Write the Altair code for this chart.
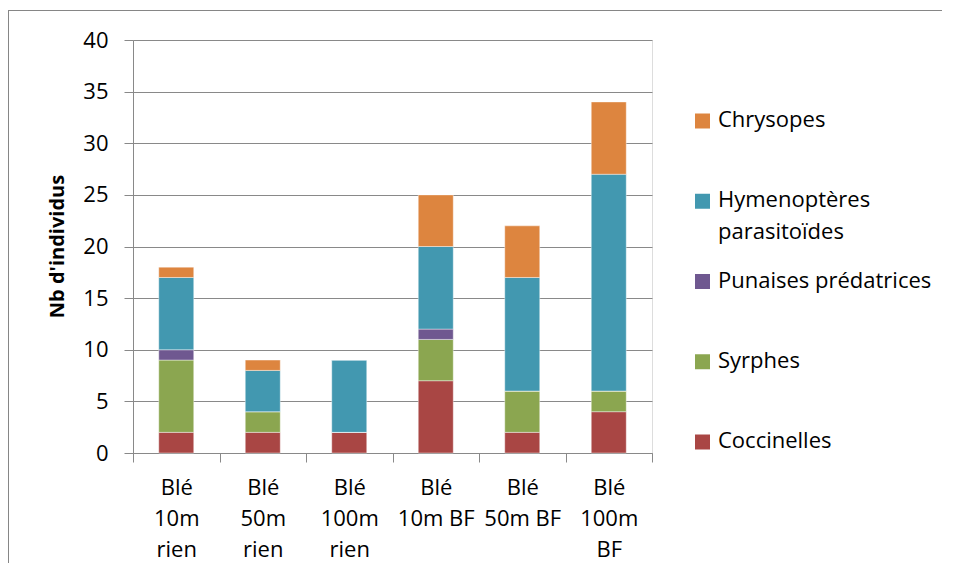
import altair as alt
import pandas as pd

categories = ["Blé|10m|rien", "Blé|50m|rien", "Blé|100m|rien", "Blé|10m BF", "Blé|50m BF", "Blé|100m|BF"]
species = ["Coccinelles", "Syrphes", "Punaises prédatrices", "Hymenoptères parasitoïdes", "Chrysopes"]
legend_labels = ["Coccinelles", "Syrphes", "Punaises prédatrices", "Hymenoptères\nparasitoïdes", "Chrysopes"]
colors = ["#A94644", "#8BA650", "#6F5890", "#4298B0", "#DD853F"]

coccinelles = [2, 2, 2, 7, 2, 4]
syrphes = [7, 2, 0, 4, 4, 2]
punaises = [1, 0, 0, 1, 0, 0]
hymenopteres = [7, 4, 7, 8, 11, 21]
chrysopes = [1, 1, 0, 5, 5, 7]

series = [coccinelles, syrphes, punaises, hymenopteres, chrysopes]
rows = []
for si, (sp, vals) in enumerate(zip(species, series)):
    for cat, v in zip(categories, vals):
        rows.append({"cat": cat, "species": sp, "value": v, "idx": si})
df = pd.DataFrame(rows)

leg = pd.DataFrame({"species": species, "label": legend_labels})
leg_order = list(reversed(species))

FONT = "Open Sans"
FS = 22
GRID = "#898989"
FRAME = "#868686"

color_scale = alt.Scale(domain=species, range=colors)

bars = alt.Chart(df).mark_bar(width=35, stroke="white", strokeWidth=0.6, strokeOpacity=0.7).encode(
    x=alt.X("cat:N", sort=categories, title=None,
            scale=alt.Scale(paddingInner=0, paddingOuter=0),
            axis=alt.Axis(labelExpr="split(datum.label, '|')", labelAngle=0,
                          labelLineHeight=31, labelBaseline="top", labelAlign="center",
                          labelPadding=15, tickSize=9, tickBand="extent",
                          tickColor=GRID, domainColor=GRID, grid=False,
                          labelFont=FONT, labelFontSize=FS, labelColor="black")),
    y=alt.Y("value:Q", stack="zero", title="Nb d'individus",
            scale=alt.Scale(domain=[0, 40], nice=False),
            axis=alt.Axis(values=[0, 5, 10, 15, 20, 25, 30, 35, 40], tickSize=9,
                          tickColor=GRID, domainColor=GRID, gridColor=GRID,
                          labelPadding=16, labelFont=FONT, labelFontSize=FS, labelColor="black",
                          titleFont=FONT, titleFontSize=20, titleFontWeight="bold",
                          titleColor="black", titleAngle=270, titleX=-76, titleY=206,
                          titleAlign="center", titleBaseline="middle")),
    color=alt.Color("species:N", scale=color_scale, legend=None),
    order=alt.Order("idx:Q", sort="ascending"),
)

leg_y = alt.Y("species:N", sort=leg_order, axis=None,
              scale=alt.Scale(domain=leg_order, range=[81, 402], padding=0))

leg_sq = alt.Chart(leg).mark_square(size=225, opacity=1).encode(
    x=alt.value(569.5),
    y=leg_y,
    color=alt.Color("species:N", scale=color_scale, legend=None),
)

leg_txt = alt.Chart(leg).mark_text(align="left", baseline="top", dy=-11, lineBreak="\n",
                                   lineHeight=32, font=FONT, fontSize=FS, color="black").encode(
    x=alt.value(585),
    y=leg_y,
    text="label:N",
)

frame_left = alt.Chart(leg).mark_rule(stroke=FRAME, strokeWidth=1).encode(
    x=alt.value(-124.5), y=alt.value(-29.5), y2=alt.value(700),
)
frame_top = alt.Chart(leg).mark_rule(stroke=FRAME, strokeWidth=1).encode(
    x=alt.value(-124.5), x2=alt.value(900), y=alt.value(-29.5),
)

chart = alt.layer(frame_left, frame_top, bars, leg_sq, leg_txt).resolve_scale(y="independent").properties(
    width=519, height=413,
    autosize=alt.AutoSizeParams(type="none"),
    padding={"left": 125, "top": 32, "right": 290, "bottom": 110},
).configure_view(stroke=None).configure(background="white")

chart.save("out.html", embed_options={"renderer": "svg", "actions": False})
